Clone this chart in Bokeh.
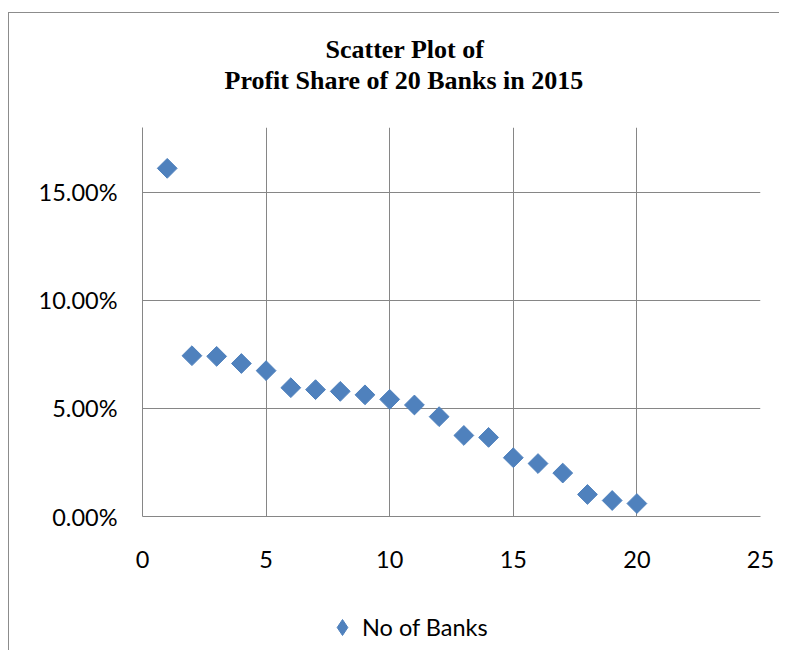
import math
from bokeh.plotting import figure
from bokeh.layouts import column
from bokeh.models import (Title, Legend, LegendItem, FixedTicker, NumeralTickFormatter,
                          Range1d)
from bokeh.embed import file_html
from bokeh.resources import INLINE

# ---- data ----
bank_rank = [1, 2, 3, 4, 5, 6, 7, 8, 9, 10, 11, 12, 13, 14, 15, 16, 17, 18, 19, 20]
profit_share = [0.1611, 0.0744, 0.0741, 0.0708, 0.0675, 0.0596, 0.0587, 0.0579,
                0.0563, 0.0542, 0.0516, 0.0462, 0.0375, 0.0366, 0.0272, 0.0245,
                0.0201, 0.0102, 0.0074, 0.0060]
x_ticks = [0, 5, 10, 15, 20, 25]
y_ticks = [0.0, 0.05, 0.10, 0.15]
title_line1 = "Scatter Plot of"
title_line2 = "Profit Share of 20 Banks in 2015"
series_name = "No of Banks"

GRID = "#868686"
BLUE = "#4F81BD"
TICK_FONT = "Lato"

W, H = 770, 577
FL, FR, FT, FB = 133, 751, 114, 503   # frame edges inside the figure canvas

p = figure(width=W, height=H, output_backend="svg", toolbar_location=None,
           x_range=Range1d(0, 25), y_range=Range1d(0, 0.18),
           min_border_left=FL, min_border_right=W - FR, min_border_top=FT,
           min_border_bottom=H - FB, title=None)
p.outline_line_color = None
p.background_fill_color = "white"
p.border_fill_color = "white"

# ---- titles (stacked above the frame; first added sits nearest the frame) ----
p.add_layout(Title(text=" ", text_font_size="1px", standoff=30), "above")
p.add_layout(Title(text=title_line2, align="left", offset=82, standoff=0,
                   text_font="Liberation Serif", text_font_style="bold",
                   text_font_size="26px", text_color="black"), "above")
p.add_layout(Title(text=title_line1, align="left", offset=183, standoff=0,
                   text_font="Liberation Serif", text_font_style="bold",
                   text_font_size="26px", text_color="black"), "above")

# ---- axes ----
for ax in (p.xaxis[0], p.yaxis[0]):
    ax.axis_line_color = GRID
    ax.axis_line_width = 1
    ax.major_tick_line_color = None
    ax.minor_tick_line_color = None
    ax.major_tick_out = 0
    ax.major_tick_in = 0
    ax.major_label_text_font = TICK_FONT
    ax.major_label_text_font_size = "23.5px"
    ax.major_label_text_color = "black"

p.xaxis.ticker = FixedTicker(ticks=x_ticks)
p.yaxis.ticker = FixedTicker(ticks=y_ticks)
p.yaxis.formatter = NumeralTickFormatter(format="0.00%")
p.xaxis.major_label_standoff = 34
p.yaxis.major_label_standoff = 25

p.xgrid.ticker = FixedTicker(ticks=x_ticks)
p.ygrid.ticker = FixedTicker(ticks=y_ticks)
p.xgrid.grid_line_color = GRID
p.ygrid.grid_line_color = GRID
p.xgrid.grid_line_width = 1
p.ygrid.grid_line_width = 1

p.scatter(bank_rank, profit_share, marker="square", angle=math.pi / 4, size=14,
          fill_color=BLUE, line_color=BLUE)

# ---- legend strip below the chart (its frame is aligned with the chart's frame) ----
leg = figure(width=W, height=60, output_backend="svg", toolbar_location=None,
             x_axis_type=None, y_axis_type=None, min_border=0,
             x_range=Range1d(0, 25), y_range=Range1d(0, 0.18))
leg.outline_line_color = None
leg.background_fill_color = "white"
leg.border_fill_color = "white"
key = leg.scatter(x=bank_rank[:1], y=profit_share[:1], marker="diamond", size=14,
                  fill_color=BLUE, line_color=BLUE, visible=False)
legend = Legend(items=[LegendItem(label=series_name, renderers=[key])],
                location=(180, 3), orientation="horizontal",
                glyph_width=40, glyph_height=40, label_standoff=0,
                padding=0, margin=0, inactive_fill_alpha=0,
                border_line_color=None, background_fill_alpha=0,
                label_text_font=TICK_FONT, label_text_font_size="23.5px",
                label_text_color="black")
leg.add_layout(legend, "center")

layout = column(p, leg, spacing=0,
                styles={"border-top": "1px solid #8c8c8c",
                        "border-left": "1px solid #8c8c8c",
                        "margin-top": "12px", "margin-left": "8px"})

open("out.html", "w").write(file_html(layout, INLINE))
